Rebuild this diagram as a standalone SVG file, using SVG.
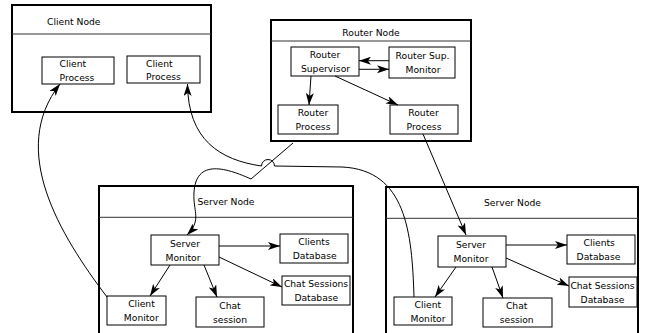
<svg xmlns="http://www.w3.org/2000/svg" width="649" height="333" viewBox="0 0 649 333">
<style>
.bg{fill:#fff}
.node{fill:#fff;stroke:#000;stroke-width:2}
.hdr{stroke:#333;stroke-width:1;fill:none}
.box{fill:#fff;stroke:#000;stroke-width:1}
text{font-family:"DejaVu Sans","Liberation Sans",sans-serif;font-size:9.2px;fill:#000}
.c{text-anchor:middle}
.conn path{fill:none;stroke:#000;stroke-width:1}
.conn .a{marker-end:url(#arr)}
</style>
<defs>
<marker id="arr" markerUnits="userSpaceOnUse" viewBox="0 0 12 8" markerWidth="12" markerHeight="8" refX="12" refY="4" orient="auto">
<path d="M0,0 L12,4 L0,8 L3,4 Z" fill="#000"/>
</marker>
</defs>
<rect class="bg" x="0" y="0" width="649" height="333"/>

<g id="client-node">
<rect class="node" x="12" y="5" width="199" height="107"/>
<line class="hdr" x1="12" y1="34" x2="211" y2="34"/>
<text x="47" y="24.5">Client Node</text>
</g>
<g id="client-process-1">
<rect class="box" x="42" y="57" width="72" height="27"/>
<text x="59.5" y="67.3">Client</text>
<text x="59.5" y="81.2">Process</text>
</g>
<g id="client-process-2">
<rect class="box" x="127" y="56" width="73" height="27"/>
<text x="146" y="66.5">Client</text>
<text x="146" y="80.3">Process</text>
</g>

<g id="router-node">
<rect class="node" x="271" y="20" width="200" height="121"/>
<line class="hdr" x1="271" y1="41" x2="471" y2="41"/>
<text class="c" x="371" y="36">Router Node</text>
</g>
<g id="router-supervisor">
<rect class="box" x="291" y="47" width="68" height="29"/>
<text class="c" x="325" y="58.3">Router</text>
<text class="c" x="325.5" y="72.2">Supervisor</text>
</g>
<g id="router-sup-monitor">
<rect class="box" x="389" y="47" width="66" height="31"/>
<text class="c" x="422.5" y="59.2">Router Sup.</text>
<text class="c" x="423" y="73">Monitor</text>
</g>
<g id="router-process-1">
<rect class="box" x="278" y="105" width="60" height="29"/>
<text class="c" x="313" y="116.2">Router</text>
<text class="c" x="313" y="130">Process</text>
</g>
<g id="router-process-2">
<rect class="box" x="390" y="105" width="68" height="29"/>
<text class="c" x="423.5" y="116.2">Router</text>
<text class="c" x="424" y="130">Process</text>
</g>

<g id="server-node-1">
<rect class="node" x="99" y="186" width="254" height="160"/>
<line class="hdr" x1="99" y1="217.3" x2="353" y2="217.3"/>
<text class="c" x="226" y="205">Server Node</text>
</g>
<g id="server-monitor-1">
<rect class="box" x="151" y="235" width="68" height="30"/>
<text class="c" x="185" y="247">Server</text>
<text class="c" x="183" y="260.5">Monitor</text>
</g>
<g id="clients-db-1">
<rect class="box" x="280" y="234" width="68" height="29"/>
<text class="c" x="314" y="245.3">Clients</text>
<text class="c" x="314.7" y="259">Database</text>
</g>
<g id="chat-sessions-db-1">
<rect class="box" x="282" y="276" width="68" height="29"/>
<text class="c" x="316" y="287.3">Chat Sessions</text>
<text class="c" x="316.3" y="301">Database</text>
</g>
<g id="client-monitor-1">
<rect class="box" x="107" y="296" width="59" height="29"/>
<text class="c" x="141.5" y="307.3">Client</text>
<text class="c" x="141.3" y="321">Monitor</text>
</g>
<g id="chat-session-1">
<rect class="box" x="196" y="297" width="68" height="30"/>
<text class="c" x="230" y="308.7">Chat</text>
<text class="c" x="230" y="322.5">session</text>
</g>

<g id="server-node-2">
<rect class="node" x="386" y="187" width="252" height="160"/>
<line class="hdr" x1="386" y1="218.3" x2="638" y2="218.3"/>
<text class="c" x="512.5" y="206">Server Node</text>
</g>
<g id="server-monitor-2">
<rect class="box" x="438" y="236" width="68" height="31"/>
<text class="c" x="471" y="248.3">Server</text>
<text class="c" x="471" y="262">Monitor</text>
</g>
<g id="clients-db-2">
<rect class="box" x="567" y="235" width="68" height="29"/>
<text class="c" x="599.2" y="246.3">Clients</text>
<text class="c" x="598.5" y="260">Database</text>
</g>
<g id="chat-sessions-db-2">
<rect class="box" x="569" y="277" width="68" height="30"/>
<text class="c" x="602.5" y="288.8">Chat Sessions</text>
<text class="c" x="602.5" y="302.5">Database</text>
</g>
<g id="client-monitor-2">
<rect class="box" x="394" y="297" width="58" height="28"/>
<text class="c" x="427.8" y="307.8">Client</text>
<text class="c" x="428" y="321.5">Monitor</text>
</g>
<g id="chat-session-2">
<rect class="box" x="483" y="298" width="69" height="29"/>
<text class="c" x="516.7" y="309.3">Chat</text>
<text class="c" x="516.7" y="323">session</text>
</g>

<g id="connectors" class="conn">
<path class="a" d="M107,297 C60,235 8,150 60,84"/>
<path class="a" d="M414,297 C412,232 406,170 342,167 L274.5,166 A6.5,6.5 0 0 0 261.5,166 C220,160 188,140 187.5,84"/>
<path class="a" d="M293,143 L251,179 C220,165 192,160 194,200 C195,214 200,222 187,235"/>
<path class="a" d="M423,134 L466,235"/>
<path class="a" d="M389,60.7 L359,60.7"/>
<path class="a" d="M359,69.3 L389,69.3"/>
<path class="a" d="M311,76 L309,105"/>
<path class="a" d="M335,76 L398,105"/>
<path class="a" d="M219,246 L280,246"/>
<path class="a" d="M219,257 L282,287"/>
<path class="a" d="M170,265 L150,296"/>
<path class="a" d="M204,265 L217,297"/>
<path class="a" d="M506,245 L567,245"/>
<path class="a" d="M506,258 L569,286"/>
<path class="a" d="M456,267 L435,297"/>
<path class="a" d="M492,267 L503,298"/>
</g>
</svg>
